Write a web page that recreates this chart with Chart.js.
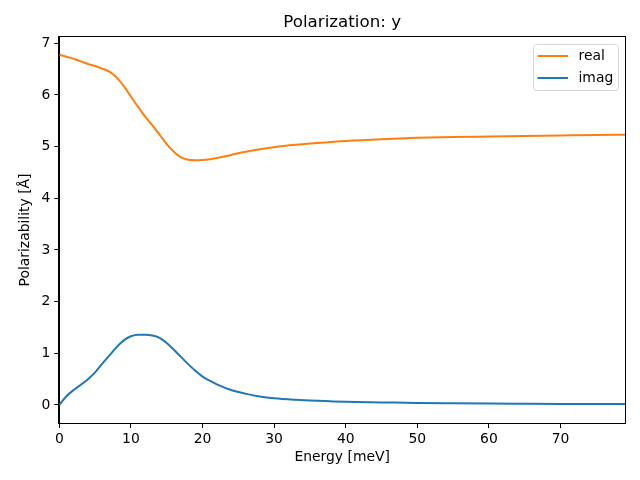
<!DOCTYPE html>
<html>
<head>
<meta charset="utf-8">
<script src="https://cdn.jsdelivr.net/npm/chart.js@4.4.1/dist/chart.umd.min.js"></script>
<style>
html,body{margin:0;padding:0;background:#fff;}
#wrap{width:640px;height:480px;position:relative;}
</style>
</head>
<body>
<div id="wrap"><canvas id="c" width="640" height="480"></canvas></div>
<script>
const energy = [0,1,2,3,4,5,6,7,8,9,10,11,12,13,14,15,16,17,18,19,20,21,22,24,26,28,30,33,36,40,45,50,55,60,65,70,75,79];
const realValues = [6.78,6.74,6.70,6.65,6.60,6.56,6.51,6.45,6.34,6.17,5.97,5.77,5.58,5.41,5.23,5.05,4.90,4.79,4.745,4.735,4.74,4.755,4.78,4.84,4.90,4.95,4.99,5.035,5.07,5.11,5.145,5.17,5.185,5.195,5.205,5.215,5.225,5.23];
const imagValues = [0,0.17,0.29,0.39,0.50,0.63,0.80,0.96,1.12,1.25,1.33,1.36,1.36,1.345,1.30,1.20,1.07,0.93,0.79,0.66,0.55,0.47,0.40,0.29,0.22,0.165,0.13,0.10,0.08,0.06,0.05,0.04,0.033,0.027,0.023,0.02,0.018,0.017];
const xTicks = [0,10,20,30,40,50,60,70];
const yTicks = [0,1,2,3,4,5,6,7];
const seriesLabels = ['real','imag'];
const chartTitle = 'Polarization: y';
const xTitle = 'Energy [meV]';
const yTitle = 'Polarizability [Å]';

const FONT = "'DejaVu Sans', sans-serif";
const toPts = (ys) => ys.map((y,i)=>({x:energy[i], y:y}));

const framePlugin = {
  id:'frame',
  afterDraw(chart){
    const {ctx, chartArea:a} = chart;
    ctx.save();
    ctx.strokeStyle='#000'; ctx.lineWidth=1;
    ctx.strokeRect(Math.round(a.left)-0.5, Math.round(a.top)-0.5, Math.round(a.right-a.left)+1, Math.round(a.bottom-a.top)+1);
    ctx.fillStyle='#000';
    ctx.textAlign='center'; ctx.textBaseline='middle';
    ctx.font = "16.7px "+FONT;
    ctx.fillText(chartTitle,(a.left+a.right)/2,22.5);
    ctx.font = "13.9px "+FONT;
    ctx.fillText(xTitle,(a.left+a.right)/2,457);
    ctx.save();
    ctx.translate(25,(a.top+a.bottom)/2);
    ctx.rotate(-Math.PI/2);
    ctx.fillText(yTitle,0,0);
    ctx.restore();
    const lx=533.5, ly=44.5, lw=85, lh=46, r=3;
    ctx.beginPath();
    ctx.moveTo(lx+r,ly); ctx.lineTo(lx+lw-r,ly); ctx.quadraticCurveTo(lx+lw,ly,lx+lw,ly+r);
    ctx.lineTo(lx+lw,ly+lh-r); ctx.quadraticCurveTo(lx+lw,ly+lh,lx+lw-r,ly+lh);
    ctx.lineTo(lx+r,ly+lh); ctx.quadraticCurveTo(lx,ly+lh,lx,ly+lh-r);
    ctx.lineTo(lx,ly+r); ctx.quadraticCurveTo(lx,ly,lx+r,ly);
    ctx.closePath();
    ctx.fillStyle='rgba(255,255,255,0.8)'; ctx.fill();
    ctx.strokeStyle='#d6d6d6'; ctx.stroke();
    chart.data.datasets.forEach((ds,i)=>{
      const yy = 56 + i*22;
      ctx.strokeStyle=ds.borderColor; ctx.lineWidth=2;
      ctx.beginPath(); ctx.moveTo(537.5,yy); ctx.lineTo(568,yy); ctx.stroke();
      ctx.fillStyle='#000'; ctx.textAlign='left'; ctx.textBaseline='middle';
      ctx.font="13.9px "+FONT;
      ctx.fillText(ds.label,578.5,yy);
    });
    ctx.restore();
  }
};

new Chart(document.getElementById('c'),{
  type:'line',
  data:{datasets:[
    {label:seriesLabels[0],data:toPts(realValues),borderColor:'#ff7f0e',borderWidth:2,pointRadius:0,cubicInterpolationMode:'monotone',fill:false},
    {label:seriesLabels[1],data:toPts(imagValues),borderColor:'#1f77b4',borderWidth:2,pointRadius:0,cubicInterpolationMode:'monotone',fill:false}
  ]},
  options:{
    responsive:false,animation:false,
    layout:{padding:{top:37,right:15,left:0,bottom:0}},
    plugins:{legend:{display:false},title:{display:false},tooltip:{enabled:false}},
    scales:{
      x:{type:'linear',min:0,max:79,
        afterBuildTicks:(s)=>{s.ticks=xTicks.map(v=>({value:v}));},
        afterFit:(s)=>{s.height=57;},
        grid:{drawOnChartArea:false,drawTicks:true,tickLength:5,color:'#000'},
        border:{display:true,color:'#000'},
        ticks:{color:'#000',padding:3,maxRotation:0,font:{family:FONT,size:13.9}}
      },
      y:{type:'linear',min:-0.349,max:7.122,
        afterBuildTicks:(s)=>{s.ticks=yTicks.map(v=>({value:v}));},
        afterFit:(s)=>{s.width=59.3;},
        grid:{drawOnChartArea:false,drawTicks:true,tickLength:5,color:'#000'},
        border:{display:true,color:'#000'},
        ticks:{color:'#000',padding:4,font:{family:FONT,size:13.9}}
      }
    }
  },
  plugins:[framePlugin]
});
</script>
</body>
</html>
